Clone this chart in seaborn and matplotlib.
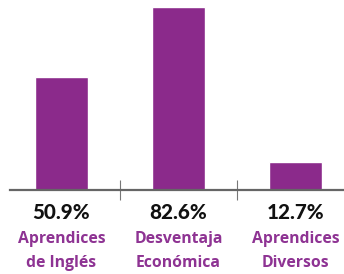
import matplotlib
matplotlib.use("Agg")
import matplotlib.pyplot as plt
import seaborn as sns
import pandas as pd

categories = ["Aprendices\nde Inglés", "Desventaja\nEconómica", "Aprendices\nDiversos"]
values = [50.9, 82.6, 12.7]
value_labels = ["50.9%", "82.6%", "12.7%"]

purple = "#8B2A8B"
text_purple = "#8E3393"

sns.set_theme(style="white")
plt.rcParams["font.family"] = ["Lato", "DejaVu Sans"]

df = pd.DataFrame({"cat": categories, "val": values})

fig = plt.figure(figsize=(3.44, 2.74), dpi=100)
ax = fig.add_axes([0, 84 / 274, 1, 190 / 274])
sns.barplot(data=df, x="cat", y="val", color=purple, width=0.453, saturation=1, ax=ax)

ax.set_xlim(-0.526, 2.415)
ax.set_ylim(0, 85.8)
ax.set_xlabel("")
ax.set_ylabel("")
ax.set_yticks([])
for s in ["top", "right", "left"]:
    ax.spines[s].set_visible(False)
ax.spines["bottom"].set_color("#666666")
ax.spines["bottom"].set_linewidth(1.6)
ax.spines["bottom"].set_bounds(-0.44, 2.415)

ax.set_xticks([0.5, 1.5])
ax.set_xticklabels(["", ""])
ax.tick_params(axis="x", direction="inout", length=14, width=0.8, color="#777777", bottom=True)

for i, (lab, vl) in enumerate(zip(categories, value_labels)):
    ax.annotate(vl, xy=(i, 274 - 219), xycoords=("data", "figure pixels"),
                ha="center", va="baseline", fontsize=14.8, fontweight="black", color="#111111",
                annotation_clip=False)
    for j, line in enumerate(lab.split("\n")):
        ax.annotate(line, xy=(i, 274 - 243 - 24 * j), xycoords=("data", "figure pixels"),
                    ha="center", va="baseline", family=["Open Sans", "DejaVu Sans"],
                    fontsize=11.3, fontweight="bold", color=text_purple,
                    annotation_clip=False)

fig.savefig("out.png", dpi=100)
